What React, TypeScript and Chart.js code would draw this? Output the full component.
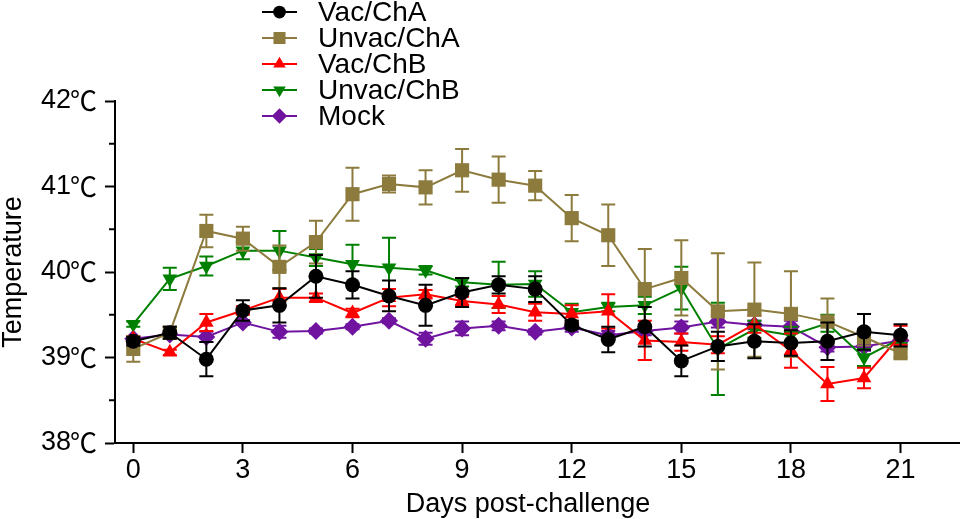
import React, { useEffect, useRef } from 'react';
import { Chart, registerables } from 'chart.js';
import { drawPoint } from 'chart.js/helpers';

Chart.register(...registerables);

const FONT = "'Liberation Sans', Arial, sans-serif";
const CJK_FONT = "'Noto Sans CJK SC', 'Noto Sans CJK JP', sans-serif";

const days = [0, 1, 2, 3, 4, 5, 6, 7, 8, 9, 10, 11, 12, 13, 14, 15, 16, 17, 18, 19, 20, 21];
const dayTicks = [0, 3, 6, 9, 12, 15, 18, 21];
const tempTicks = [38, 38.5, 39, 39.5, 40, 40.5, 41, 41.5, 42];

const seriesNames = ['Vac/ChA', 'Unvac/ChA', 'Vac/ChB', 'Unvac/ChB', 'Mock'];

const vacChA = [39.19, 39.29, 38.98, 39.55, 39.61, 39.95, 39.85, 39.72, 39.61, 39.76, 39.85, 39.8, 39.38, 39.21, 39.36, 38.96, 39.13, 39.19, 39.17, 39.19, 39.3, 39.26];
const vacChAErr = [0.05, 0.07, 0.2, 0.12, 0.2, 0.25, 0.16, 0.18, 0.24, 0.17, 0.1, 0.15, 0.05, 0.15, 0.23, 0.18, 0.17, 0.2, 0.15, 0.22, 0.21, 0.13];

const unvacChA = [39.1, 39.29, 40.48, 40.39, 40.06, 40.35, 40.91, 41.03, 40.99, 41.19, 41.08, 41.01, 40.63, 40.43, 39.8, 39.93, 39.54, 39.56, 39.51, 39.42, 39.24, 39.05];
const unvacChAErr = [0.15, 0.07, 0.19, 0.14, 0.25, 0.25, 0.31, 0.1, 0.2, 0.25, 0.27, 0.17, 0.27, 0.36, 0.47, 0.44, 0.68, 0.55, 0.5, 0.27, 0.1, 0.05];

const vacChB = [39.22, 39.06, 39.41, 39.55, 39.7, 39.7, 39.52, 39.7, 39.74, 39.66, 39.62, 39.53, 39.51, 39.54, 39.2, 39.18, 39.15, 39.39, 39.08, 38.69, 38.76, 39.26];
const vacChBErr = [0.03, 0.03, 0.1, 0.05, 0.1, 0.05, 0.05, 0.1, 0.05, 0.05, 0.1, 0.1, 0.1, 0.2, 0.23, 0.1, 0.1, 0.1, 0.2, 0.2, 0.12, 0.11];

const unvacChB = [39.39, 39.92, 40.07, 40.25, 40.25, 40.17, 40.09, 40.05, 40.02, 39.88, 39.85, 39.86, 39.53, 39.59, 39.61, 39.81, 39.1, 39.33, 39.26, 39.4, 39.0, 39.22];
const unvacChBErr = [0.03, 0.13, 0.11, 0.1, 0.23, 0.1, 0.23, 0.35, 0.05, 0.05, 0.27, 0.15, 0.1, 0.05, 0.1, 0.25, 0.54, 0.1, 0.1, 0.1, 0.1, 0.05];

const mock = [39.22, 39.27, 39.24, 39.41, 39.3, 39.31, 39.36, 39.43, 39.22, 39.34, 39.37, 39.3, 39.35, 39.26, 39.31, 39.35, 39.42, 39.38, 39.36, 39.12, 39.13, 39.2];
const mockErr = [0.03, 0.03, 0.06, 0.03, 0.07, 0.03, 0.03, 0.03, 0.07, 0.08, 0.05, 0.03, 0.05, 0.05, 0.05, 0.07, 0.07, 0.05, 0.07, 0.05, 0.05, 0.05];

const seriesValues = [vacChA, unvacChA, vacChB, unvacChB, mock];
const seriesErrors = [vacChAErr, unvacChAErr, vacChBErr, unvacChBErr, mockErr];

const colors = ['#000000', '#8c7b3c', '#ff0000', '#008000', '#7014a0'];
const styles = [
  { pointStyle: 'circle', radius: 7.5, rotation: 0 },
  { pointStyle: 'rect', radius: 10, rotation: 0 },
  { pointStyle: 'triangle', radius: 8.5, rotation: 0 },
  { pointStyle: 'triangle', radius: 8.5, rotation: 180 },
  { pointStyle: 'rectRot', radius: 9, rotation: 0 },
];

// error bars behind each series' own markers
const errorBars = {
  id: 'errorBars',
  beforeDatasetDraw(chart: any, args: any) {
    const i = args.index;
    const errs = seriesErrors[i];
    const vals = seriesValues[i];
    const y = chart.scales.y;
    const ctx = chart.ctx;
    ctx.save();
    ctx.strokeStyle = colors[i];
    ctx.lineWidth = 2;
    args.meta.data.forEach((pt: any, j: number) => {
      const top = y.getPixelForValue(vals[j] + errs[j]);
      const bot = y.getPixelForValue(vals[j] - errs[j]);
      ctx.beginPath();
      ctx.moveTo(pt.x, top);
      ctx.lineTo(pt.x, bot);
      ctx.moveTo(pt.x - 7, top);
      ctx.lineTo(pt.x + 7, top);
      ctx.moveTo(pt.x - 7, bot);
      ctx.lineTo(pt.x + 7, bot);
      ctx.stroke();
    });
    ctx.restore();
  },
};

const extras = {
  id: 'extras',
  afterDraw(chart: any) {
    const ctx = chart.ctx;
    const y = chart.scales.y;
    const axisX = chart.chartArea.left;
    ctx.save();
    ctx.strokeStyle = '#000';
    ctx.fillStyle = '#000';
    ctx.lineWidth = 2;
    // minor ticks and the ℃ unit after each whole degree
    ctx.font = `27px ${CJK_FONT}`;
    ctx.textAlign = 'right';
    ctx.textBaseline = 'middle';
    tempTicks.forEach((t) => {
      const py = y.getPixelForValue(t);
      if (Number.isInteger(t)) {
        ctx.fillText('℃', axisX - 18, py);
      } else {
        ctx.beginPath();
        ctx.moveTo(axisX - 6, py);
        ctx.lineTo(axisX, py);
        ctx.stroke();
      }
    });

    // x axis title
    ctx.font = `27px ${FONT}`;
    ctx.textAlign = 'center';
    ctx.textBaseline = 'alphabetic';
    ctx.fillText('Days post-challenge', 528, 512);

    // legend
    ctx.font = `28px ${FONT}`;
    ctx.textAlign = 'left';
    ctx.textBaseline = 'middle';
    seriesNames.forEach((name, i) => {
      const ly = 12 + i * 26;
      ctx.strokeStyle = colors[i];
      ctx.fillStyle = colors[i];
      ctx.beginPath();
      ctx.moveTo(262, ly);
      ctx.lineTo(297, ly);
      ctx.stroke();
      drawPoint(ctx, {
        pointStyle: styles[i].pointStyle as any,
        rotation: styles[i].rotation,
        radius: styles[i].radius * 0.85,
        borderWidth: 0,
      }, 279.5, ly);
      ctx.fillStyle = '#000';
      ctx.fillText(name, 318, ly + 1);
    });
    ctx.restore();
  },
};

const App: React.FC = () => {
  const canvasRef = useRef<HTMLCanvasElement | null>(null);
  const chartRef = useRef<Chart | null>(null);

  useEffect(() => {
    const ctx = canvasRef.current?.getContext('2d');
    if (!ctx) return;

    chartRef.current = new Chart(ctx, {
      type: 'line',
      data: {
        datasets: seriesNames.map((name, i) => ({
          label: name,
          data: days.map((d, j) => ({ x: d, y: seriesValues[i][j] })),
          borderColor: colors[i],
          backgroundColor: colors[i],
          borderWidth: 2,
          pointStyle: styles[i].pointStyle as any,
          pointRadius: styles[i].radius,
          pointRotation: styles[i].rotation,
          pointBorderWidth: 0,
          pointHoverRadius: styles[i].radius,
          tension: 0,
        })),
      },
      options: {
        animation: false,
        responsive: true,
        maintainAspectRatio: false,
        layout: { padding: { top: 101, right: 2, left: 0, bottom: 0 } },
        plugins: {
          legend: { display: false },
          tooltip: { enabled: false },
        },
        scales: {
          x: {
            type: 'linear',
            min: -0.5,
            max: 22.6,
            afterBuildTicks: (s: any) => {
              s.ticks = dayTicks.map((v) => ({ value: v }));
            },
            afterFit: (s: any) => {
              s.height = 76;
            },
            ticks: {
              color: '#000',
              font: { family: FONT, size: 27 },
              padding: 1,
              maxRotation: 0,
              autoSkip: false,
            },
            grid: {
              drawOnChartArea: false,
              drawTicks: true,
              tickLength: 10,
              tickWidth: 2,
              tickColor: '#000',
            },
            border: { color: '#000', width: 2 },
          },
          y: {
            type: 'linear',
            min: 38,
            max: 42,
            afterBuildTicks: (s: any) => {
              s.ticks = tempTicks.map((v) => ({ value: v }));
            },
            afterFit: (s: any) => {
              s.width = 115;
            },
            ticks: {
              color: '#000',
              font: { family: FONT, size: 27 },
              padding: 34,
              callback: (v: any) => (Number.isInteger(v) ? `${v}` : ''),
            },
            grid: {
              drawOnChartArea: false,
              drawTicks: true,
              tickLength: 10,
              tickWidth: 2,
              tickColor: (c: any) => (Number.isInteger(c.tick?.value) ? '#000' : 'rgba(0,0,0,0)'),
            },
            border: { color: '#000', width: 2 },
            title: {
              display: true,
              text: 'Temperature',
              color: '#000',
              font: { family: FONT, size: 27, lineHeight: 1 },
              padding: 0,
            },
          },
        },
      },
      plugins: [errorBars, extras],
    });

    return () => {
      if (chartRef.current) chartRef.current.destroy();
    };
  }, []);

  return (
    <div style={{ position: 'fixed', left: 0, top: 0, width: 969, height: 519, background: '#fff' }}>
      <canvas ref={canvasRef}></canvas>
    </div>
  );
};

export default App;
